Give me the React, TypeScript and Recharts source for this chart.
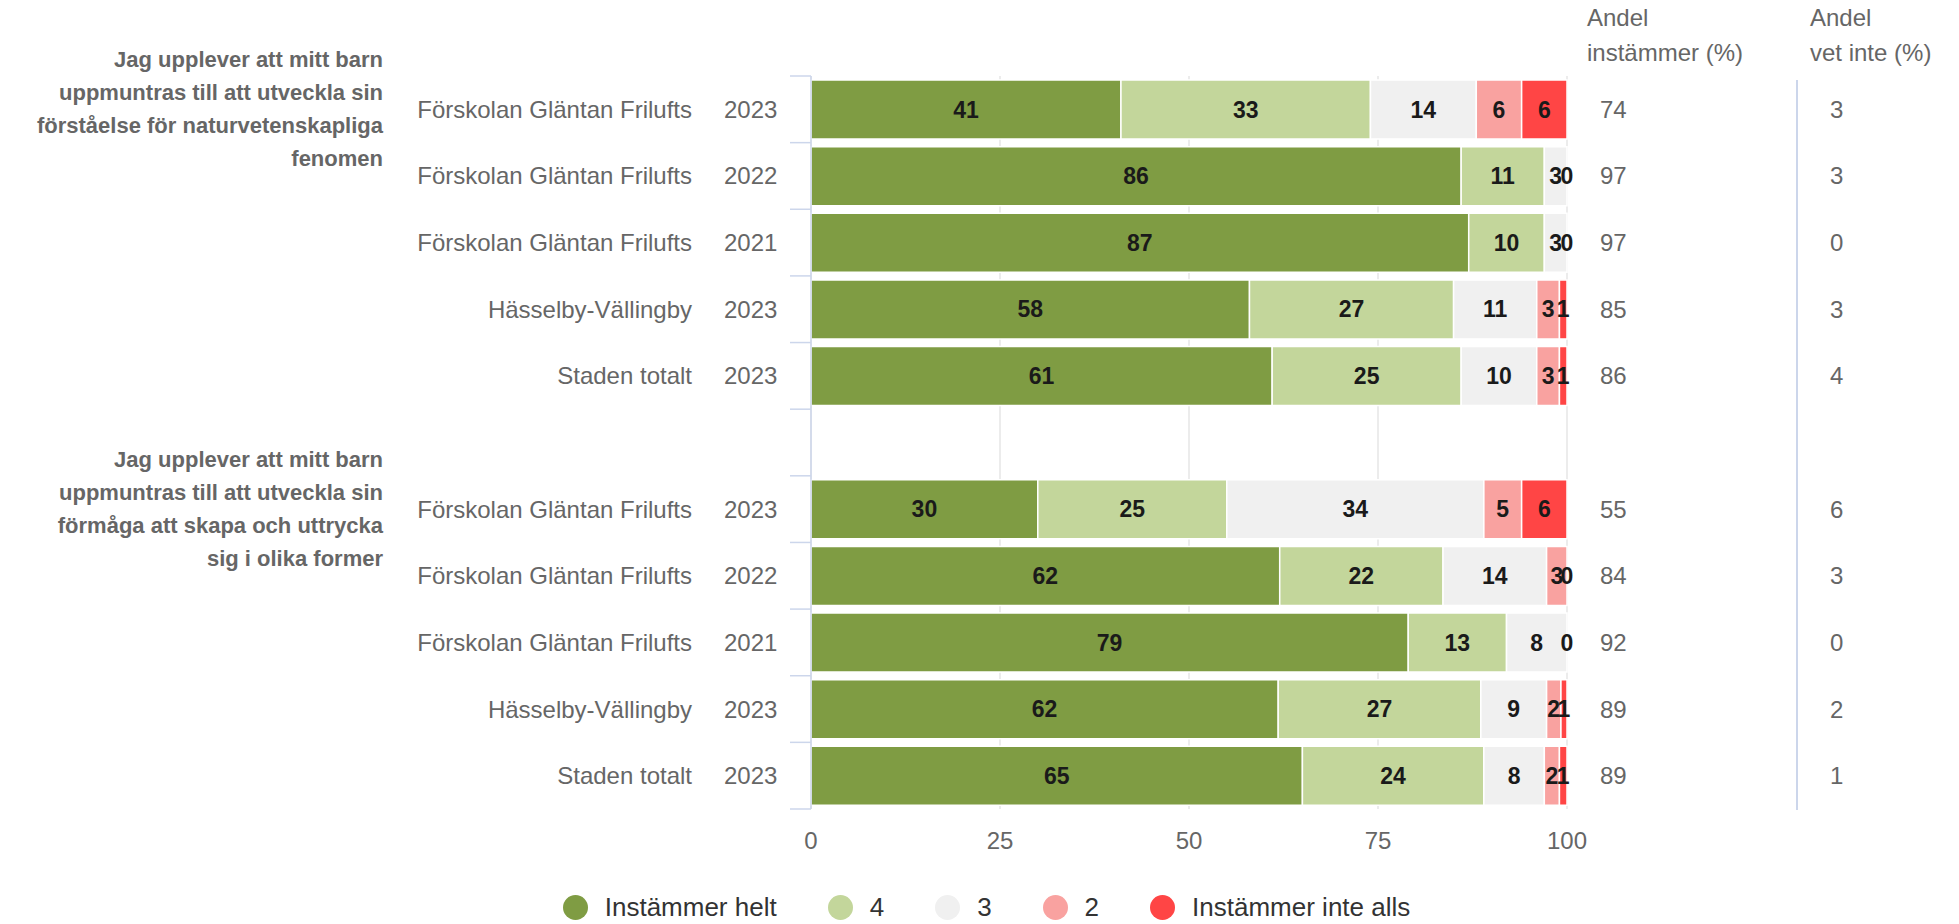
import { BarChart, Bar, XAxis, YAxis, CartesianGrid, LabelList, Legend } from 'recharts';

// question texts, already broken into the lines used in the chart
const questions = [
  ['Jag upplever att mitt barn', 'uppmuntras till att utveckla sin', 'förståelse för naturvetenskapliga', 'fenomen'],
  ['Jag upplever att mitt barn', 'uppmuntras till att utveckla sin', 'förmåga att skapa och uttrycka', 'sig i olika former'],
];
const units = ['Förskolan Gläntan Frilufts', 'Förskolan Gläntan Frilufts', 'Förskolan Gläntan Frilufts', 'Hässelby-Vällingby', 'Staden totalt'];
const years = ['2023', '2022', '2021', '2023', '2023'];

const seriesNames = ['Instämmer helt', '4', '3', '2', 'Instämmer inte alls'];
const seriesKeys = ['helt', 'fyra', 'tre', 'tva', 'inte'];
const seriesColors = ['#7f9c43', '#c3d69b', '#f0f0f0', '#f9a2a0', '#ff4545'];

// percent per answer, one list per question
const helt = [[41, 86, 87, 58, 61], [30, 62, 79, 61.8, 65]];
const fyra = [[33, 11, 10, 27, 25], [25, 21.6, 13, 26.8, 24]];
const tre = [[14, 3, 3, 11, 10], [34, 13.7, 8, 8.7, 8]];
const tva = [[6, 0, 0, 3, 3], [5, 2.7, 0, 1.9, 2]];
const inte = [[6, 0, 0, 1, 1], [6, 0, 0, 0.8, 1]];
const andelInstammer = [[74, 97, 97, 85, 86], [55, 84, 92, 89, 89]];
const andelVetInte = [[3, 3, 0, 3, 4], [6, 3, 0, 2, 1]];
const xTicks = [0, 25, 50, 75, 100];

const rows: any[] = [];
questions.forEach((q, qi) => {
  if (qi > 0) rows.push({ key: 'gap' + qi });
  units.forEach((u, i) => {
    rows.push({
      key: `q${qi}-${i}`,
      question: i === 0 ? q : null,
      unit: u,
      year: years[i],
      helt: helt[qi][i],
      fyra: fyra[qi][i],
      tre: tre[qi][i],
      tva: tva[qi][i],
      inte: inte[qi][i],
      andel: andelInstammer[qi][i],
      vetInte: andelVetInte[qi][i],
    });
  });
});

const AXIS_X = 811;
const GRAY = '#666666';

const RowTick = (props: any) => {
  const { y, payload } = props;
  const row = rows.find((r) => r.key === payload.value);
  const half = payload.offset || 33.5;
  const last = rows[rows.length - 1].key === payload.value;
  return (
    <g>
      <line x1={AXIS_X - 21} x2={AXIS_X} y1={y - half} y2={y - half} stroke="#ccd6eb" strokeWidth={1.5} />
      {last && <line x1={AXIS_X - 21} x2={AXIS_X} y1={y + half} y2={y + half} stroke="#ccd6eb" strokeWidth={1.5} />}
      {row && row.unit && (
        <g fontSize={24} fill={GRAY}>
          <text x={692} y={y} textAnchor="end" dominantBaseline="central">{row.unit}</text>
          <text x={724} y={y} dominantBaseline="central">{row.year}</text>
          <text x={1600} y={y} dominantBaseline="central">{row.andel}</text>
          <text x={1830} y={y} dominantBaseline="central">{row.vetInte}</text>
        </g>
      )}
      {row && row.question && (
        <text textAnchor="end" fontSize={22} fontWeight="bold" fill={GRAY}>
          {row.question.map((line: string, i: number) => (
            <tspan key={i} x={383} y={y + (i - 1.5) * 33} dominantBaseline="central">{line}</tspan>
          ))}
        </text>
      )}
    </g>
  );
};

const labelStyle = { fontSize: 23, fontWeight: 'bold' as const, fill: '#1a1a1a' };

// label of one segment; zero segments after it get their "0" at its end
const makeLabel = (si: number) => (props: any) => {
  const v = props.value;
  if (v == null || v.v == null || v.v === 0) return null;
  const box = props.viewBox && props.viewBox.width != null ? props.viewBox : props;
  const { x, y, width, height } = box;
  let zeros = 0;
  for (let j = si + 1; j < seriesKeys.length && v.row[seriesKeys[j]] === 0; j++) zeros++;
  return (
    <g>
      <text x={x + width / 2} y={y + height / 2} textAnchor="middle" dominantBaseline="central" {...labelStyle}>
        {Math.round(v.v)}
      </text>
      {zeros > 0 && (
        <text x={x + width} y={y + height / 2} textAnchor="middle" dominantBaseline="central" {...labelStyle}>0</text>
      )}
    </g>
  );
};

const renderLegend = () => (
  <div style={{ display: 'flex', justifyContent: 'center', alignItems: 'center', height: 34, paddingLeft: 14 }}>
    {seriesNames.map((name, i) => (
      <div key={name} style={{ display: 'flex', alignItems: 'center', marginRight: i < seriesNames.length - 1 ? 51 : 0 }}>
        <span style={{ width: 25, height: 25, borderRadius: '50%', background: seriesColors[i], marginRight: 17 }} />
        <span style={{ fontSize: 26, color: '#333' }}>{name}</span>
      </div>
    ))}
  </div>
);

export default function App() {
  return (
    <div style={{ position: 'absolute', left: 0, top: 0, width: 1959, height: 924, background: '#fff',
      fontFamily: '"Liberation Sans", Arial, Helvetica, sans-serif' }}>
      <BarChart width={1959} height={924} data={rows} layout="vertical" barSize={59}
        margin={{ top: 76, right: 392, left: 0, bottom: 0 }}>
        <CartesianGrid horizontal={false} stroke="#e6e6e6" strokeWidth={1.5} />
        <XAxis type="number" domain={[0, 100]} ticks={xTicks} axisLine={false} tickLine={false}
          tickSize={0} tickMargin={23} height={81} tick={{ fill: GRAY, fontSize: 24 }} />
        <YAxis type="category" dataKey="key" width={AXIS_X} interval={0} tickLine={false}
          axisLine={{ stroke: '#ccd6eb', strokeWidth: 1.5 }} tick={<RowTick />} />
        <Legend verticalAlign="bottom" content={renderLegend} wrapperStyle={{ left: 0, width: 1959 }} />
        {seriesKeys.map((k, i) => (
          <Bar key={k} dataKey={k} name={seriesNames[i]} stackId="a" fill={seriesColors[i]}
            stroke="#fff" strokeWidth={1.5} isAnimationActive={false}>
            <LabelList dataKey={(r: any) => (r[k] == null ? null : { v: r[k], row: r })} content={makeLabel(i)} />
          </Bar>
        ))}
      </BarChart>
      <div style={{ position: 'absolute', left: 1587, top: 0, fontSize: 24, lineHeight: '35px', color: GRAY }}>
        Andel<br />instämmer (%)
      </div>
      <div style={{ position: 'absolute', left: 1810, top: 0, fontSize: 24, lineHeight: '35px', color: GRAY }}>
        Andel<br />vet inte (%)
      </div>
      <div style={{ position: 'absolute', left: 1796, top: 80, width: 1.5, height: 730, background: '#ccd6eb' }} />
    </div>
  );
}
